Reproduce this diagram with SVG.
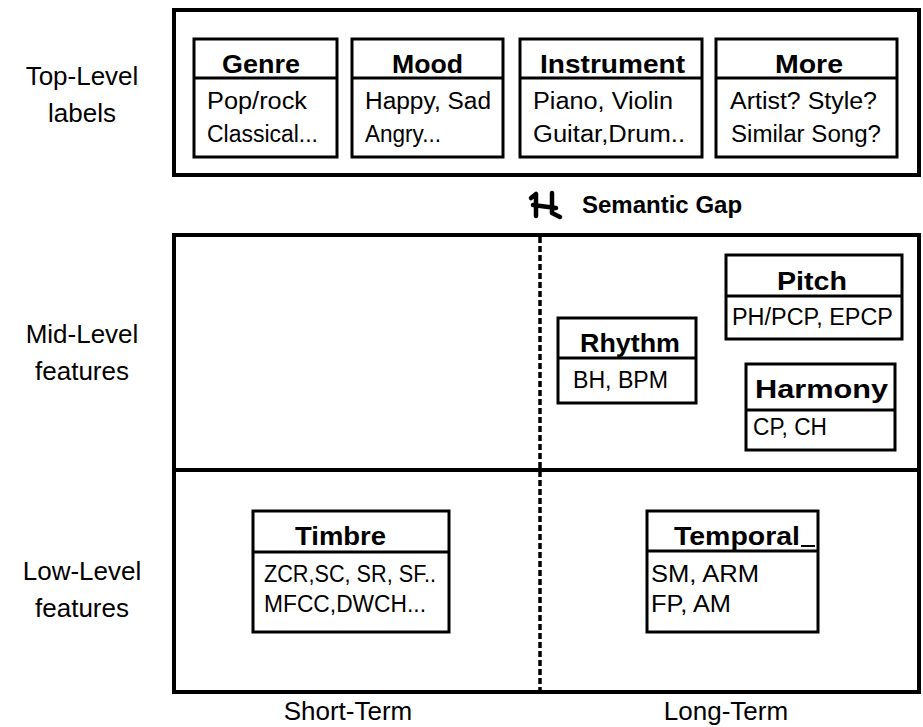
<svg xmlns="http://www.w3.org/2000/svg" width="923" height="727" viewBox="0 0 923 727">
<style>
.frame{fill:none;stroke:#000;stroke-width:4}
.box{fill:#fff;stroke:#000;stroke-width:3}
.div{stroke:#000;stroke-width:3}
.hd{font-family:"Liberation Sans",Arial,sans-serif;font-weight:bold;font-size:25px;fill:#000}
.bd{font-family:"Liberation Sans",Arial,sans-serif;font-size:23px;fill:#000}
.lb{font-family:"Liberation Sans",Arial,sans-serif;font-size:26px;fill:#000;text-anchor:middle}
.gap{font-family:"Liberation Sans",Arial,sans-serif;font-weight:bold;font-size:24px;fill:#000}
</style>
<rect width="923" height="727" fill="#fff"/>

<g id="frames">
<rect class="frame" x="174" y="10" width="745" height="165"/>
<rect class="frame" x="174" y="235" width="745" height="457"/>
<line class="frame" x1="174" y1="470" x2="919" y2="470"/>
<line x1="540" y1="237" x2="540" y2="690" stroke="#000" stroke-width="3.5" stroke-dasharray="6 3"/>
</g>

<g id="row-labels">
<text class="lb" x="82" y="85">Top-Level</text>
<text class="lb" x="82" y="122">labels</text>
<text class="lb" x="82" y="343">Mid-Level</text>
<text class="lb" x="82" y="380">features</text>
<text class="lb" x="82" y="580">Low-Level</text>
<text class="lb" x="82" y="617">features</text>
<text class="lb" x="348" y="720">Short-Term</text>
<text class="lb" x="726" y="720">Long-Term</text>
</g>

<g id="semantic-gap">
<path d="M531,198 L536,194 L536,216 M552,193 L552,213 L560,217 M533,205 L556,208" fill="none" stroke="#000" stroke-width="4.5" stroke-linecap="round" stroke-linejoin="round"/>
<text class="gap" x="582" y="213">Semantic Gap</text>
</g>

<g id="genre">
<rect class="box" x="194" y="39" width="143" height="118"/>
<line class="div" x1="194" y1="78" x2="337" y2="78"/>
<text class="hd" x="222" y="73" textLength="78" lengthAdjust="spacingAndGlyphs">Genre</text>
<text class="bd" x="207" y="109" textLength="100" lengthAdjust="spacingAndGlyphs">Pop/rock</text>
<text class="bd" x="207" y="142" textLength="111" lengthAdjust="spacingAndGlyphs">Classical...</text>
</g>

<g id="mood">
<rect class="box" x="352" y="39" width="151" height="118"/>
<line class="div" x1="352" y1="78" x2="503" y2="78"/>
<text class="hd" x="392" y="73" textLength="71" lengthAdjust="spacingAndGlyphs">Mood</text>
<text class="bd" x="365" y="109" textLength="126" lengthAdjust="spacingAndGlyphs">Happy, Sad</text>
<text class="bd" x="365" y="142" textLength="76" lengthAdjust="spacingAndGlyphs">Angry...</text>
</g>

<g id="instrument">
<rect class="box" x="520" y="39" width="182" height="118"/>
<line class="div" x1="520" y1="78" x2="702" y2="78"/>
<text class="hd" x="540" y="73" textLength="145" lengthAdjust="spacingAndGlyphs">Instrument</text>
<text class="bd" x="533" y="109" textLength="140" lengthAdjust="spacingAndGlyphs">Piano, Violin</text>
<text class="bd" x="533" y="142" textLength="152" lengthAdjust="spacingAndGlyphs">Guitar,Drum..</text>
</g>

<g id="more">
<rect class="box" x="716" y="39" width="181" height="118"/>
<line class="div" x1="716" y1="78" x2="897" y2="78"/>
<text class="hd" x="775" y="73" textLength="68" lengthAdjust="spacingAndGlyphs">More</text>
<text class="bd" x="730" y="109" textLength="147" lengthAdjust="spacingAndGlyphs">Artist? Style?</text>
<text class="bd" x="731" y="142" textLength="150" lengthAdjust="spacingAndGlyphs">Similar Song?</text>
</g>

<g id="pitch">
<rect class="box" x="726" y="255" width="176" height="84"/>
<line class="div" x1="726" y1="296" x2="902" y2="296"/>
<text class="hd" x="777" y="290" textLength="70" lengthAdjust="spacingAndGlyphs">Pitch</text>
<text class="bd" x="732" y="325" textLength="161" lengthAdjust="spacingAndGlyphs">PH/PCP, EPCP</text>
</g>

<g id="rhythm">
<rect class="box" x="558" y="318" width="138" height="85"/>
<line class="div" x1="558" y1="358" x2="696" y2="358"/>
<text class="hd" x="580" y="352" textLength="100" lengthAdjust="spacingAndGlyphs">Rhythm</text>
<text class="bd" x="573" y="388" textLength="95" lengthAdjust="spacingAndGlyphs">BH, BPM</text>
</g>

<g id="harmony">
<rect class="box" x="746" y="364" width="149" height="86"/>
<line class="div" x1="746" y1="410" x2="895" y2="410"/>
<text class="hd" x="755" y="398" textLength="133" lengthAdjust="spacingAndGlyphs">Harmony</text>
<text class="bd" x="753" y="435" textLength="74" lengthAdjust="spacingAndGlyphs">CP, CH</text>
</g>

<g id="timbre">
<rect class="box" x="253" y="511" width="196" height="121"/>
<line class="div" x1="253" y1="552" x2="449" y2="552"/>
<text class="hd" x="295" y="545" textLength="91" lengthAdjust="spacingAndGlyphs">Timbre</text>
<text class="bd" x="264" y="582" textLength="172" lengthAdjust="spacingAndGlyphs">ZCR,SC, SR, SF..</text>
<text class="bd" x="264" y="612" textLength="162" lengthAdjust="spacingAndGlyphs">MFCC,DWCH...</text>
</g>

<g id="temporal">
<rect class="box" x="647" y="511" width="171" height="121"/>
<line class="div" x1="647" y1="551" x2="818" y2="551"/>
<text class="hd" x="674" y="545" textLength="126" lengthAdjust="spacingAndGlyphs">Temporal</text>
<line x1="801" y1="546" x2="815" y2="546" stroke="#000" stroke-width="2"/>
<text class="bd" x="651" y="582" textLength="108" lengthAdjust="spacingAndGlyphs">SM, ARM</text>
<text class="bd" x="651" y="612" textLength="80" lengthAdjust="spacingAndGlyphs">FP, AM</text>
</g>
</svg>
